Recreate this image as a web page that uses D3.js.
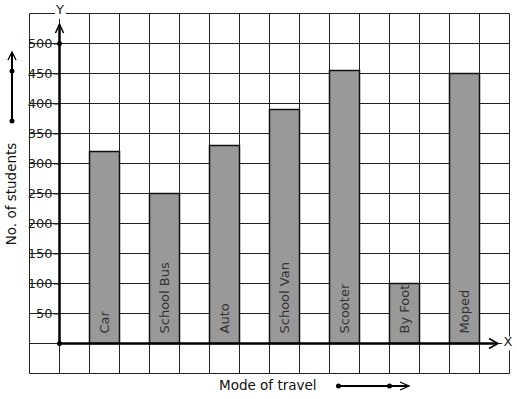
<!DOCTYPE html>
<html>
<head>
<meta charset="utf-8">
<script src="https://cdn.jsdelivr.net/npm/d3@7"></script>
<style>
  body { margin: 0; background: #fff; }
  svg { display: block; font-family: 'DejaVu Sans', sans-serif; }
</style>
</head>
<body>
<svg id="chart" width="517" height="399"></svg>
<script>
// data
const modes = ['Car', 'School Bus', 'Auto', 'School Van', 'Scooter', 'By Foot', 'Moped']
const students = [320, 250, 330, 390, 455, 100, 450]
const yTicks = [50, 100, 150, 200, 250, 300, 350, 400, 450, 500]

const svg = d3.select('#chart')

// one grid cell = 30px, 50 students per cell
const x = d3.scaleLinear().domain([-1, 15]).range([29.5, 509.5])
const y = d3.scaleLinear().domain([-50, 550]).range([373.5, 13.5])

// graph paper
const grid = svg.append('g').attr('stroke', '#222').attr('stroke-width', 1)
grid.selectAll('.v')
    .data(d3.range(-1, 16))
    .join('line')
    .attr('x1', (d) => x(d)).attr('x2', (d) => x(d))
    .attr('y1', y(550)).attr('y2', y(-50))
grid.selectAll('.h')
    .data(d3.range(-50, 551, 50))
    .join('line')
    .attr('x1', x(-1)).attr('x2', x(15))
    .attr('y1', (d) => y(d)).attr('y2', (d) => y(d))

// bars
svg.append('g')
    .selectAll('rect')
    .data(modes)
    .join('rect')
    .attr('x', (d, i) => x(1 + 2 * i))
    .attr('width', x(1) - x(0))
    .attr('y', (d, i) => y(students[i]))
    .attr('height', (d, i) => y(0) - y(students[i]))
    .attr('fill', '#999')
    .attr('stroke', '#111')
    .attr('stroke-width', 1.5)

svg.append('g')
    .selectAll('text')
    .data(modes)
    .join('text')
    .attr('transform', (d, i) => `translate(${x(1.5 + 2 * i) + 1}, ${y(0) - 10}) rotate(-90)`)
    .attr('dominant-baseline', 'middle')
    .attr('font-size', 13)
    .attr('fill', '#333')
    .text((d) => d)

// y tick labels
const yAxis = d3.axisLeft(y).tickValues(yTicks).tickSize(6).tickPadding(1)
const ya = svg.append('g')
    .attr('transform', `translate(${x(0)}, 0)`)
    .call(yAxis)
ya.select('.domain').remove()
ya.selectAll('.tick line').attr('stroke', '#222')
ya.selectAll('.tick text')
    .attr('font-size', 13)
    .attr('font-family', 'DejaVu Sans, sans-serif')
    .attr('fill', '#222')

// axes with arrows
const axes = svg.append('g')
    .attr('stroke', '#000')
    .attr('stroke-width', 2.5)
    .attr('fill', 'none')
axes.append('line')
    .attr('x1', x(0)).attr('x2', x(0))
    .attr('y1', y(0)).attr('y2', 25)
axes.append('path')
    .attr('stroke-width', 1.5)
    .attr('d', `M${x(0) - 4},${33} L${x(0)},${24} L${x(0) + 4},${33}`)
axes.append('line')
    .attr('x1', x(0)).attr('x2', 497)
    .attr('y1', y(0)).attr('y2', y(0))
axes.append('path')
    .attr('stroke-width', 1.5)
    .attr('d', `M${489},${y(0) - 5} L${498},${y(0)} L${489},${y(0) + 5}`)

svg.append('circle').attr('cx', x(0)).attr('cy', y(0)).attr('r', 2.5)
svg.append('circle').attr('cx', x(0)).attr('cy', y(500)).attr('r', 2.5)

// axis letters on white
svg.append('rect').attr('x', 55).attr('y', 5).attr('width', 11).attr('height', 14).attr('fill', '#fff')
svg.append('text')
    .attr('x', x(0) + 0.5).attr('y', 10)
    .attr('text-anchor', 'middle')
    .attr('dominant-baseline', 'middle')
    .attr('font-size', 13)
    .attr('fill', '#222')
    .text('Y')
svg.append('rect').attr('x', 502).attr('y', y(0) - 7).attr('width', 12).attr('height', 14).attr('fill', '#fff')
svg.append('text')
    .attr('x', 508).attr('y', y(0) - 1)
    .attr('text-anchor', 'middle')
    .attr('dominant-baseline', 'middle')
    .attr('font-size', 13)
    .attr('fill', '#222')
    .text('X')

// axis titles
svg.append('text')
    .attr('x', 219).attr('y', 390)
    .attr('font-size', 13.5)
    .attr('fill', '#111')
    .text('Mode of travel')
svg.append('text')
    .attr('transform', 'translate(12, 194) rotate(-90)')
    .attr('text-anchor', 'middle')
    .attr('dominant-baseline', 'middle')
    .attr('font-size', 13.5)
    .attr('fill', '#111')
    .text('No. of students')

// little direction arrows beside the titles
const deco = svg.append('g').attr('stroke', '#000').attr('fill', 'none')
deco.append('line').attr('x1', 12).attr('x2', 12).attr('y1', 121).attr('y2', 53).attr('stroke-width', 2)
deco.append('path').attr('stroke-width', 1.3).attr('d', 'M8,60 L12,52 L16,60')
deco.append('line').attr('x1', 338).attr('x2', 408).attr('y1', 386).attr('y2', 386).attr('stroke-width', 2)
deco.append('path').attr('stroke-width', 1.3).attr('d', 'M400,382 L409,386 L400,390')
svg.selectAll('.dot')
    .data([[12, 71], [12, 121], [338.5, 386], [389.5, 386]])
    .join('circle')
    .attr('cx', (d) => d[0]).attr('cy', (d) => d[1])
    .attr('r', 2.5)
</script>
</body>
</html>
